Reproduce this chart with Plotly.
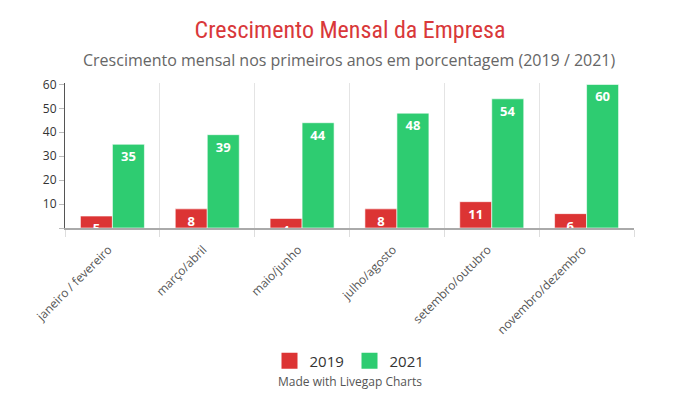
import plotly.graph_objects as go

categories = ["janeiro / fevereiro", "março/abril", "maio/junho", "julho/agosto",
              "setembro/outubro", "novembro/dezembro"]
values_2019 = [5, 8, 4, 8, 11, 6]
values_2021 = [35, 39, 44, 48, 54, 60]
y_tick_values = [0, 10, 20, 30, 40, 50, 60]
y_tick_labels = ["", "10", "20", "30", "40", "50", "60"]
grid_values = [30, 60]

RED = "#dc3434"
GREEN = "#2ecc71"

PLOT_TOP, PLOT_BOTTOM = 83, 228


def paper_y(py):
    return (PLOT_BOTTOM - py) / (PLOT_BOTTOM - PLOT_TOP)


fig = go.Figure()
for name, vals, color in [("2019", values_2019, RED), ("2021", values_2021, GREEN)]:
    fig.add_trace(go.Bar(
        name=name, x=categories, y=vals,
        marker=dict(color=color, line=dict(color="rgba(255,255,255,0.6)", width=1)),
        text=[str(v) for v in vals], textposition="inside", insidetextanchor="end",
        textangle=0, constraintext="none", cliponaxis=True,
        textfont=dict(family="Open Sans", size=13, color="white", weight="bold"),
        hoverinfo="skip", showlegend=False,
    ))
    # legend swatch (larger square like the reference)
    fig.add_trace(go.Scatter(
        name=name, x=[None], y=[None], mode="markers",
        marker=dict(symbol="square", size=16, color=color), showlegend=True,
        hoverinfo="skip",
    ))

fig.update_layout(
    width=700, height=400,
    margin=dict(l=65, r=66, t=PLOT_TOP, b=400 - PLOT_BOTTOM, autoexpand=False),
    paper_bgcolor="white", plot_bgcolor="white",
    barmode="group", bargap=0.325, bargroupgap=0,
    font=dict(family="Open Sans", color="#444"),
    title=dict(text="Crescimento Mensal da Empresa", x=0.5, xanchor="center",
               y=1 - 30 / 400, yanchor="middle", yref="container",
               font=dict(family="Roboto Condensed, Liberation Sans Narrow, DejaVu Sans Condensed",
                         size=24, color="#d9383a")),
    showlegend=True,
    legend=dict(orientation="h", x=0.5, xanchor="center", xref="paper",
                y=(400 - 361) / 400, yanchor="middle", yref="container",
                font=dict(family="Open Sans", size=15, color="#333"),
                itemwidth=30, itemsizing="trace", entrywidth=35, tracegroupgap=0),
    xaxis=dict(tickangle=-45, tickson="boundaries", showgrid=True, gridcolor="#e4e4e4",
               ticks="outside", ticklen=7, tickcolor="#dddddd", ticklabelstandoff=8,
               ticklabelshift=-4,
               tickfont=dict(family="Open Sans", size=12, color="#555"),
               showline=True, linecolor="#aaaaaa", linewidth=2, fixedrange=True,
               automargin=False),
    yaxis=dict(range=[0, 60.6], tickvals=y_tick_values, ticktext=y_tick_labels,
               showgrid=False, zeroline=False, ticks="outside", ticklen=5, tickcolor="#bbbbbb",
               tickfont=dict(family="Open Sans", size=12, color="#333"),
               showline=True, linecolor="#555555", linewidth=1, fixedrange=True,
               automargin=False),
    yaxis2=dict(range=[0, 60.6], overlaying="y", tickvals=grid_values, showgrid=True,
                gridcolor="#eeeeee", gridwidth=1, showticklabels=False, zeroline=False,
                showline=False, ticks="", fixedrange=True, layer="below traces"),
    annotations=[
        dict(text="Crescimento mensal nos primeiros anos em porcentagem (2019 / 2021)",
             x=0.5, xref="paper", xanchor="center", y=paper_y(60), yref="paper",
             yanchor="middle", showarrow=False,
             font=dict(family="Open Sans", size=16, color="#666")),
        dict(text="Made with Livegap Charts", x=0.5, xref="paper", xanchor="center",
             y=paper_y(381), yref="paper", yanchor="middle", showarrow=False,
             font=dict(family="Open Sans", size=12, color="#555")),
    ],
)

fig.write_html("out.html")
